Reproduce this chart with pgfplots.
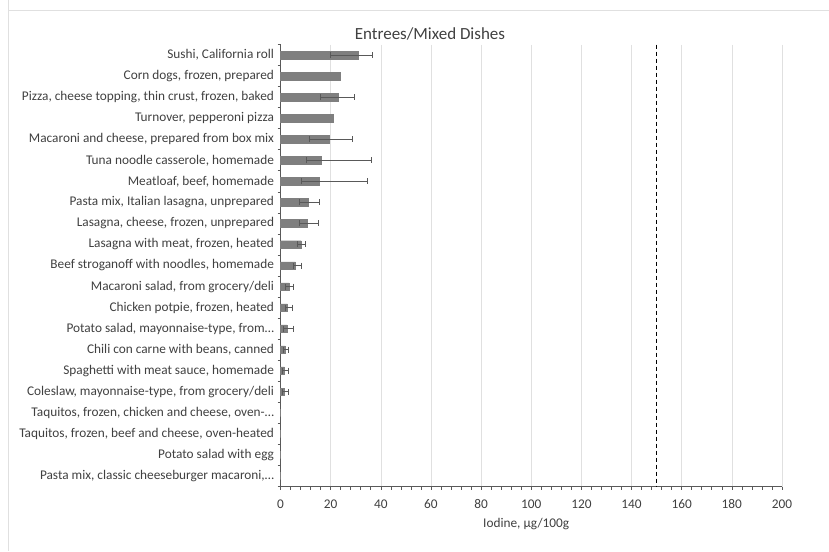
\documentclass[border=0pt]{standalone}
\usepackage{fontspec}
\setmainfont{Carlito}
\usepackage{pgfplots}
\usepackage{pgfplotstable}
\pgfplotsset{compat=1.18}
\definecolor{txt}{HTML}{404040}
\definecolor{barc}{HTML}{7F7F7F}
\definecolor{errc}{HTML}{595959}
\definecolor{gridc}{HTML}{E0E0E0}
\definecolor{axc}{HTML}{595959}
\pgfplotstableread{
i v
0 31.0
1 23.7
2 23.0
3 21.0
4 19.5
5 16.1
6 15.5
7 11.1
8 10.8
9 8.2
10 5.9
11 3.4
12 2.7
13 2.5
14 1.8
15 1.5
16 1.5
17 0
18 0
19 0
20 0
}\bars
\pgfplotstableread{
i v ep em
0 31.0 5.6 11.3
2 23.0 6.4 7.3
4 19.5 9.0 8.0
5 16.1 20.0 5.7
6 15.5 19.0 7.3
7 11.1 4.2 3.6
8 10.8 4.1 3.3
9 8.2 1.6 1.4
10 5.9 2.5 0.8
11 3.4 1.9 1.6
12 2.7 2.1 0.9
13 2.5 2.8 1.5
14 1.8 1.3 0.8
15 1.5 1.5 0.8
16 1.5 1.5 0.8
}\errs
\begin{document}
\begin{tikzpicture}[x=1pt,y=1pt]
\path[use as bounding box] (0,0) rectangle (829,551);
\draw[gridc, line width=0.8pt] (8,551) -- (8,541) -- (829,541);
\draw[gridc, line width=0.8pt] (8,0) -- (8,541);
\begin{axis}[
  at={(280.5pt,64.5pt)}, anchor=south west,
  scale only axis, width=501.5pt, height=442pt,
  xmin=0, xmax=200, ymin=-0.5, ymax=20.5,
  y dir=reverse,
  axis x line*=bottom, axis y line*=left,
  axis line style={axc, line width=0.7pt, -},
  xtick={0,20,...,200},
  minor x tick num=4,
  xmajorgrids, major grid style={gridc, line width=0.6pt},
  ytick={0,...,20},
  minor ytick={-0.5,0.5,...,20.5},
  major y tick style={draw=none},
  tick align=outside,
  major tick length=3pt, minor tick length=3pt,
  tick style={axc, line width=0.6pt},
  minor x tick style={axc, line width=0.6pt},
  minor y tick style={axc, line width=0.6pt},
  yticklabels={{Sushi, California roll},{Corn dogs, frozen, prepared},{Pizza, cheese topping, thin crust, frozen, baked},{Turnover, pepperoni pizza},{Macaroni and cheese, prepared from box mix},{Tuna noodle casserole, homemade},{Meatloaf, beef, homemade},{Pasta mix, Italian lasagna, unprepared},{Lasagna, cheese, frozen, unprepared},{Lasagna with meat, frozen, heated},{Beef stroganoff with noodles, homemade},{Macaroni salad, from grocery/deli},{Chicken potpie, frozen, heated},{Potato salad, mayonnaise-type, from…},{Chili con carne with beans, canned},{Spaghetti with meat sauce, homemade},{Coleslaw, mayonnaise-type, from grocery/deli},{Taquitos, frozen, chicken and cheese, oven-…},{Taquitos, frozen, beef and cheese, oven-heated},{Potato salad with egg},{Pasta mix, classic cheeseburger macaroni,…}},
  ticklabel style={font=\fontsize{13.3}{16}\selectfont, text=txt},
  xticklabel style={yshift=-6pt, text height=9pt, text depth=0pt},
  /pgf/number format/assume math mode=true,
  title={Entrees/Mixed Dishes},
  title style={at={(axis description cs:0.298,1.011)}, anchor=center, font=\fontsize{17}{20}\selectfont, text=txt},
  xlabel={Iodine, µg/100g},
  xlabel style={at={(axis description cs:0.49,-0.084)}, anchor=center, font=\fontsize{13.3}{16}\selectfont, text=txt},
  clip=false,
]
\addplot[xbar, bar shift=0pt, bar width=7.5pt, fill=barc, draw=barc] table[x=v, y=i] {\bars};
\addplot[draw=none, mark=none, error bars/.cd, x dir=both, x explicit,
  error bar style={errc, line width=0.7pt}, error mark options={rotate=90, mark size=3pt, errc, line width=0.7pt}]
  table[x=v, y=i, x error plus=ep, x error minus=em] {\errs};
\addplot[black, dashed, line width=1.3pt, dash pattern=on 4pt off 3pt] coordinates {(150,-0.5) (150,20.5)};
\end{axis}
\end{tikzpicture}
\end{document}
